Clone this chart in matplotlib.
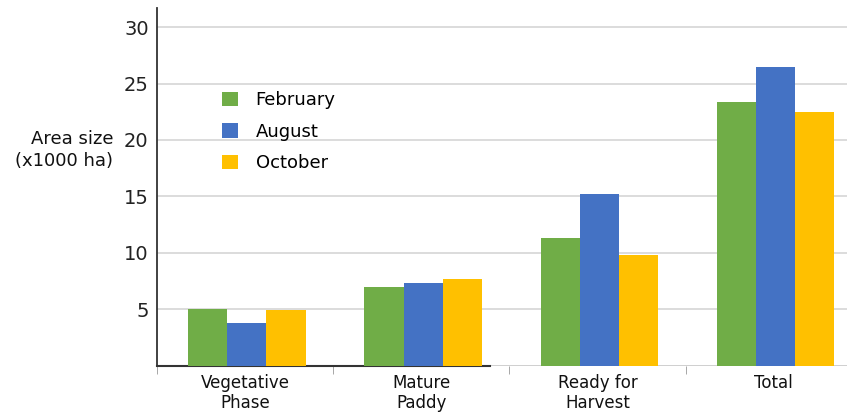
import numpy as np
import matplotlib.pyplot as plt
from matplotlib.patches import Patch

# Area size (x1000 ha) per growth stage
categories = ['Vegetative\nPhase', 'Mature\nPaddy', 'Ready for\nHarvest', 'Total']
months = ['February', 'August', 'October']
february = [5.0, 7.0, 11.3, 23.4]
august = [3.8, 7.3, 15.2, 26.5]
october = [4.9, 7.7, 9.8, 22.5]
colors = ['#70ad47', '#4472c4', '#ffc000']

plt.rcParams['font.family'] = 'DejaVu Sans'

fig = plt.figure(figsize=(8.47, 4.16), dpi=100)
ax = fig.add_axes([157 / 847, 1 - 365.5 / 416, 1 - 157 / 847, (365.5 - 8) / 416])

x = np.arange(len(categories))
width = 0.222
for i, (vals, col) in enumerate(zip([february, august, october], colors)):
    ax.bar(x + (i - 1) * width + 0.01, vals, width, color=col, zorder=3)

ax.set_xlim(-0.5, 3.415)
ax.set_ylim(0, 31.7)

ax.set_yticks([5, 10, 15, 20, 25, 30])
ax.set_yticklabels(['5', '10', '15', '20', '25', '30'], fontsize=14, color='#222222')
ax.yaxis.grid(True, color='#d9d9d9', linewidth=1.3, zorder=0)
ax.tick_params(axis='y', length=0, pad=6)

ax.set_xticks(x)
ax.set_xticklabels(categories, fontsize=12, color='#111111', linespacing=1.15)
ax.set_xticks([-0.5, 0.5, 1.5, 2.5], minor=True)
ax.tick_params(axis='x', which='major', length=0, pad=6)
ax.tick_params(axis='x', which='minor', length=6, color='#999999')

for s in ['top', 'right']:
    ax.spines[s].set_visible(False)
ax.spines['left'].set_color('#333333')
ax.spines['left'].set_linewidth(1.3)
ax.spines['bottom'].set_color('#333333')
ax.spines['bottom'].set_linewidth(1.5)
ax.spines['bottom'].set_bounds(-0.5, 1.39)
ax.axhline(0, color='#cccccc', linewidth=1.3, zorder=1)

fig.text(113 / 847, 1 - 150 / 416, 'Area size\n(x1000 ha)', ha='right', va='center',
         fontsize=13, linespacing=1.3, color='#111111')

handles = [Patch(facecolor=c, edgecolor='none') for c in colors]
ax.legend(handles, months, loc='upper left', bbox_to_anchor=(206 / 847, 1 - 75 / 416),
          bbox_transform=fig.transFigure, frameon=False, fontsize=13,
          handlelength=0.85, handleheight=0.85, handletextpad=1.0, labelspacing=0.75)

fig.savefig('out.png', dpi=100)
